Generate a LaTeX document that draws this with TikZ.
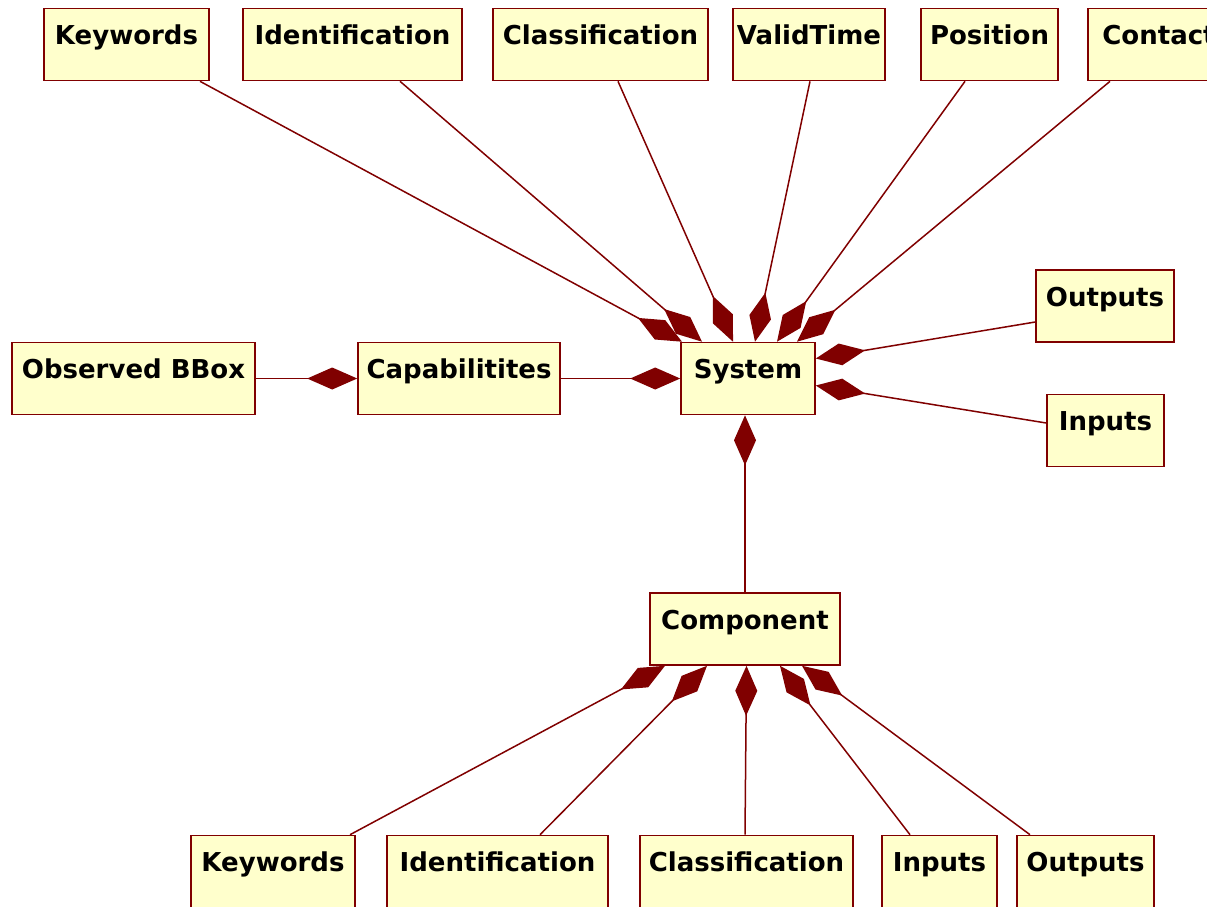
\documentclass[tikz,border=0pt]{standalone}
\usepackage{fontspec}
\setmainfont{DejaVu Sans}
\usetikzlibrary{arrows.meta}
\definecolor{umlred}{RGB}{128,0,0}
\definecolor{umlfill}{RGB}{255,255,204}
\tikzset{
  cls/.style={draw=umlred, fill=umlfill, line width=1.6pt, inner sep=0pt,
    text height=36pt, text depth=36pt, font=\fontsize{26}{30}\selectfont\bfseries},
  comp/.style={draw=umlred, line width=1.5pt, -{Diamond[length=50pt,width=22pt,fill=umlred]}}
}
\begin{document}
\begin{tikzpicture}[x=1pt,y=-1pt]
\useasboundingbox (0,0) rectangle (1207,906);
\clip (0,0) rectangle (1207,906);
\fill[white] (0,0) rectangle (1207,906);
% top row
\node[cls, minimum width=165pt] (kwT) at (126.5,44.5) {Keywords};
\node[cls, minimum width=219pt] (idT) at (352.5,44.5) {Identification};
\node[cls, minimum width=215pt] (clT) at (600.5,44.5) {Classification};
\node[cls, minimum width=152pt] (vtT) at (809,44.5) {ValidTime};
\node[cls, minimum width=137pt] (poT) at (989.5,44.5) {Position};
\node[cls, minimum width=142pt] (coT) at (1159,44.5) {Contact};
% middle
\node[cls, minimum width=243pt] (obs) at (133.5,378.5) {Observed BBox};
\node[cls, minimum width=202pt] (cap) at (459,378.5) {Capabilitites};
\node[cls, minimum width=134pt] (sys) at (748,378.5) {System};
\node[cls, minimum width=138pt] (outR) at (1105,306) {Outputs};
\node[cls, minimum width=117pt] (inR) at (1105.5,430.5) {Inputs};
\node[cls, minimum width=190pt] (cmp) at (745,629) {Component};
% bottom row
\node[cls, minimum width=164pt] (kwB) at (273,871.5) {Keywords};
\node[cls, minimum width=221pt] (idB) at (497.5,871.5) {Identification};
\node[cls, minimum width=213pt] (clB) at (746.5,871.5) {Classification};
\node[cls, minimum width=115pt] (inB) at (939.5,871.5) {Inputs};
\node[cls, minimum width=137pt] (ouB) at (1085.5,871.5) {Outputs};
% connectors to System
\draw[comp] ([xshift=73.5pt]kwT.south) -- ([xshift=-66pt]sys.north);
\draw[comp] ([xshift=47.5pt]idT.south) -- ([xshift=-46pt]sys.north);
\draw[comp] ([xshift=17.5pt]clT.south) -- ([xshift=-15pt]sys.north);
\draw[comp] ([xshift=1pt]vtT.south) -- ([xshift=7pt]sys.north);
\draw[comp] ([xshift=-24.5pt]poT.south) -- ([xshift=29pt]sys.north);
\draw[comp] ([xshift=-49pt]coT.south) -- ([xshift=49pt]sys.north);
\draw[comp] ([yshift=-16pt]outR.west) -- ([yshift=20pt]sys.east);
\draw[comp] ([yshift=7.5pt]inR.west) -- ([yshift=-7pt]sys.east);
\draw[comp] (cap.east) -- (sys.west);
\draw[comp] (obs.east) -- (cap.west);
\draw[comp] (cmp.north) -- (cmp.north |- sys.south);
% connectors to Component
\draw[comp] ([xshift=77pt]kwB.north) -- ([xshift=-80pt]cmp.south);
\draw[comp] ([xshift=42.5pt]idB.north) -- ([xshift=-38pt]cmp.south);
\draw[comp] ([xshift=-1.5pt]clB.north) -- (clB.north |- cmp.south);
\draw[comp] ([xshift=-29.5pt]inB.north) -- ([xshift=35pt]cmp.south);
\draw[comp] ([xshift=-55.5pt]ouB.north) -- ([xshift=57pt]cmp.south);
\end{tikzpicture}
\end{document}
